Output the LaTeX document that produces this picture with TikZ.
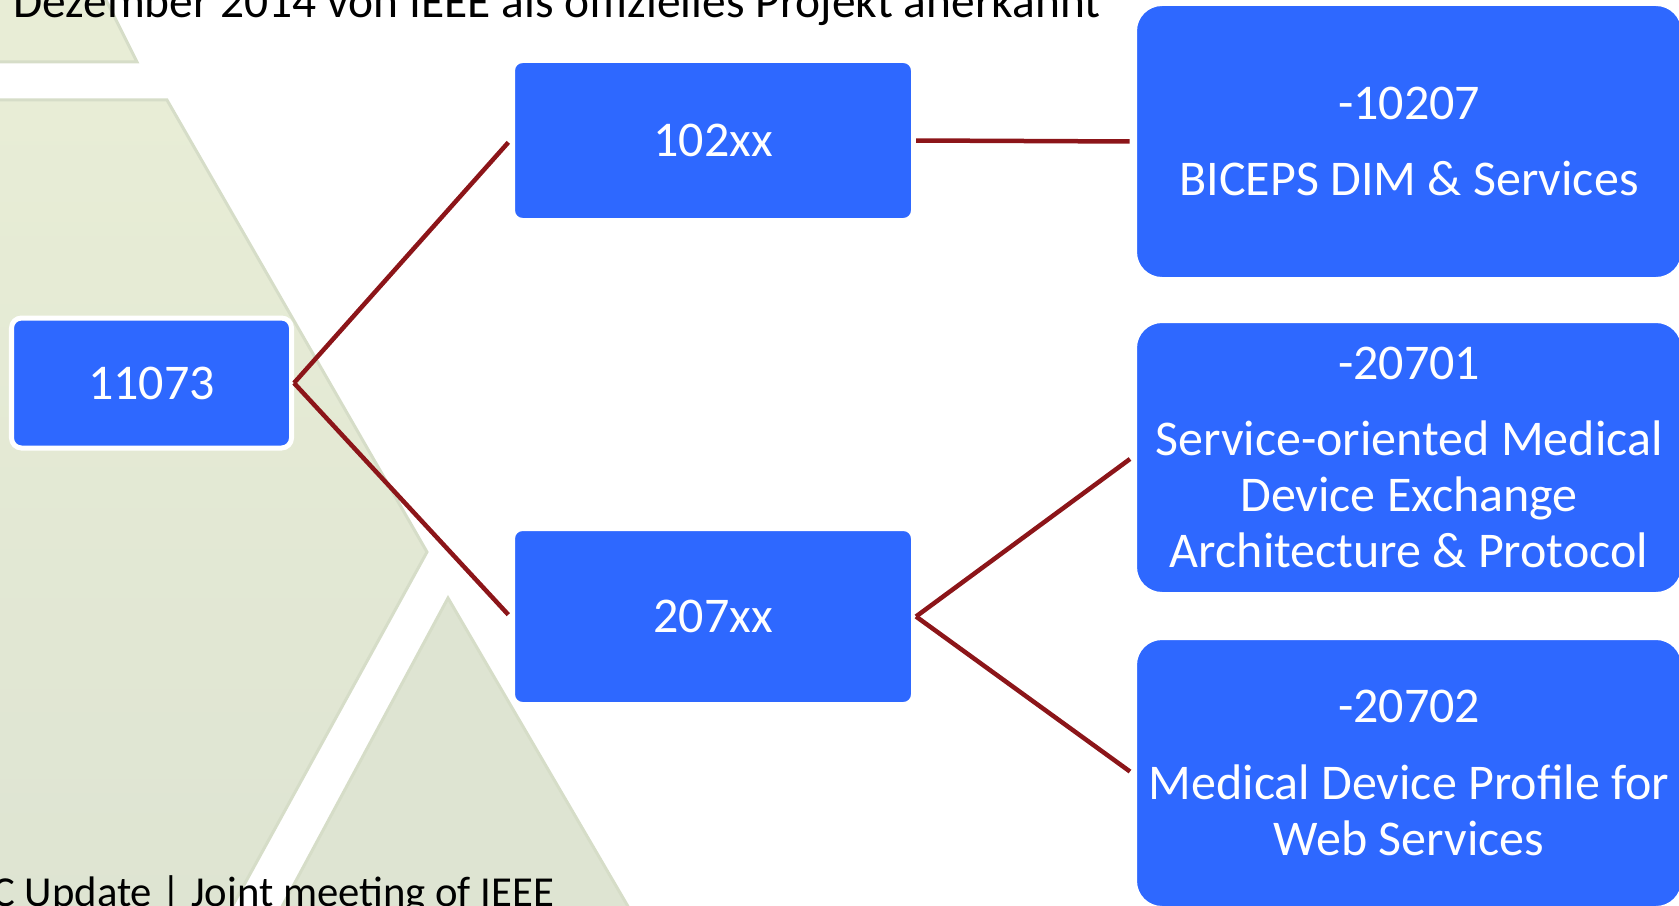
\documentclass[tikz,border=0pt]{standalone}
\usepackage{fontspec}
\setmainfont{Carlito}
\usetikzlibrary{positioning}

\definecolor{boxblue}{RGB}{46,104,255}
\definecolor{linkred}{RGB}{140,21,25}
\definecolor{bgtop}{RGB}{232,237,214}
\definecolor{bgbottom}{RGB}{222,228,210}
\definecolor{bgedge}{RGB}{214,221,200}

\begin{document}
\begin{tikzpicture}[
    font=\fontsize{28.45pt}{31.9pt}\selectfont,
    smallbox/.style={fill=boxblue, draw=white, line width=0.1cm, text=white, rounded corners=0.2cm, minimum width=8.02cm, align=center},
    bigbox/.style={fill=boxblue, draw=white, line width=0.1cm, text=white, rounded corners=0.55cm, minimum width=10.98cm, align=center},
    backdrop/.style={draw=bgedge, line width=0.06cm},
    link/.style={draw=linkred, line width=0.09cm, shorten >=0.05cm},
    caption/.style={inner sep=0pt, anchor=base west, text=black}
]
    \useasboundingbox (0,0) rectangle (33.58,-18.1);

    % Background
    \draw[backdrop, fill=bgtop] (-0.2,0.2) -- (2.02,0.2) -- (2.74,-1.24) -- (-0.2,-1.24) -- cycle;
    \draw[backdrop, top color=bgtop, bottom color=bgbottom] (-0.2,-2) -- (3.34,-2) -- (8.54,-11.04) -- (4.55,-18.3) -- (-0.2,-18.3) -- cycle;
    \draw[backdrop, fill=bgbottom] (8.96,-11.96) -- (12.66,-18.3) -- (5.55,-18.3) -- cycle;

    % Texts
    \node[caption, font=\fontsize{27pt}{30pt}\selectfont] (heading) at (0.26,-0.36) {Dezember 2014 von IEEE als offizielles Projekt anerkannt};
    \node[caption, font=\fontsize{24.3pt}{28pt}\selectfont] (footer) at (-0.16,-18.12) {C Update | Joint meeting of IEEE};

    % Nodes
    \node[smallbox, minimum width=5.6cm, minimum height=2.6cm] (root) at (3.03,-7.66) {11073};
    \node[smallbox, minimum height=3.2cm] (ieee102) at (14.26,-2.81) {102xx};
    \node[smallbox, minimum height=3.52cm] (ieee207) at (14.26,-12.33) {207xx};

    \node[bigbox, minimum height=5.52cm] (std10207) at (28.18,-2.83) {-10207\\[0.4cm]BICEPS DIM \& Services};
    \node[bigbox, minimum height=5.48cm] (std20701) at (28.18,-9.15) {-20701\\[0.4cm]Service-oriented Medical\\Device Exchange\\Architecture \& Protocol};
    \node[bigbox, minimum height=5.42cm] (std20702) at (28.18,-15.46) {-20702\\[0.4cm]Medical Device Profile for\\Web Services};

    % Links
    \draw[link] (root.east) -- (ieee102.west);
    \draw[link] (root.east) -- (ieee207.west);
    \draw[link] (ieee102.east) -- (std10207.west);
    \draw[link] (ieee207.east) -- (std20701.west);
    \draw[link] (ieee207.east) -- (std20702.west);
\end{tikzpicture}
\end{document}
